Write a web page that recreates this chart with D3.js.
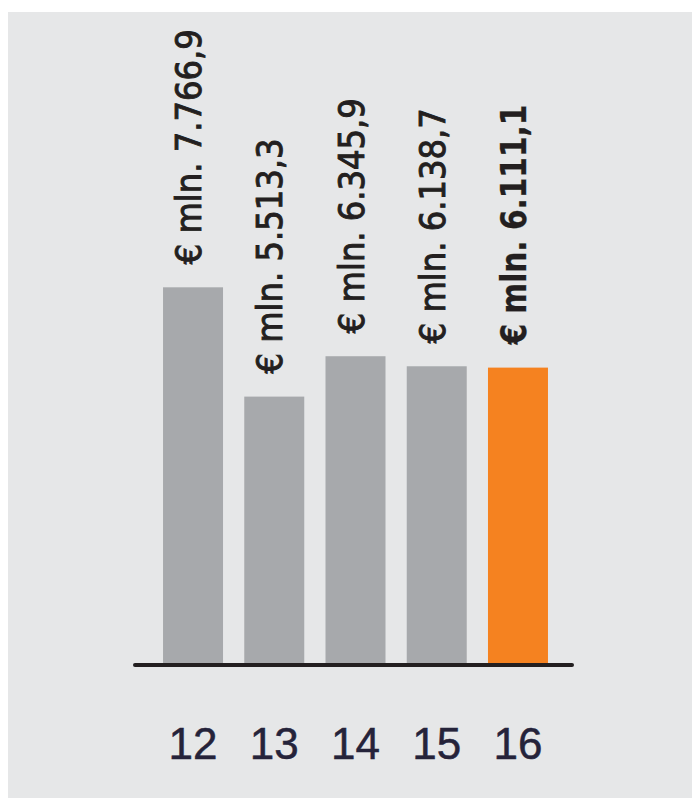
<!DOCTYPE html>
<html>
<head>
<meta charset="utf-8">
<script src="https://cdn.jsdelivr.net/npm/d3@7"></script>
<style>
  html, body { margin: 0; padding: 0; background: #ffffff; }
  svg { display: block; }
</style>
</head>
<body>
<div id="chart"></div>
<script>
// years shown under the bars
var years = ['12', '13', '14', '15', '16'];
// values in € mln, as printed above the bars
var values = [7766.9, 5513.3, 6345.9, 6138.7, 6111.1];
// printed labels
var labels = ['€ mln. 7.766,9', '€ mln. 5.513,3', '€ mln. 6.345,9', '€ mln. 6.138,7', '€ mln. 6.111,1'];

var width = 692, height = 798;
var baseY = 664;
var last = years.length - 1;

var svg = d3.select('#chart')
  .append('svg')
  .attr('width', width)
  .attr('height', height);

// grey panel
svg.append('rect')
  .attr('x', 8)
  .attr('y', 12)
  .attr('width', width - 8)
  .attr('height', height - 12)
  .attr('fill', '#e6e7e8');

// scales
var x = d3.scaleBand()
  .domain(years)
  .range([152.4, 558.6])
  .paddingInner(0.2615)
  .paddingOuter(0.1308);

var y = d3.scaleLinear()
  .domain([0, 8000])
  .range([baseY, baseY - 388]);

// bars
svg.selectAll('.bar')
  .data(values)
  .enter()
  .append('rect')
  .attr('class', 'bar')
  .attr('x', function (d, i) { return x(years[i]); })
  .attr('y', function (d) { return y(d); })
  .attr('width', x.bandwidth())
  .attr('height', function (d) { return baseY - y(d); })
  .attr('fill', function (d, i) { return i === last ? '#f58220' : '#a7a9ac'; });

// value labels, rotated
svg.selectAll('.val')
  .data(values)
  .enter()
  .append('text')
  .attr('class', 'val')
  .attr('transform', function (d, i) {
    var cx = x(years[i]) + x.bandwidth() / 2 + 8;
    return 'translate(' + cx + ',' + (y(d) - 23) + ') rotate(-90)';
  })
  .attr('textLength', function (d, i) { return i === last ? 240 : 235; })
  .attr('lengthAdjust', 'spacingAndGlyphs')
  .style('font-family', '"Liberation Sans Narrow", "DejaVu Sans Condensed", "Liberation Sans", sans-serif')
  .style('font-size', '36px')
  .style('font-weight', function (d, i) { return i === last ? 'bold' : 'normal'; })
  .attr('fill', '#231f20')
  .attr('stroke', '#231f20')
  .attr('stroke-width', function (d, i) { return i === last ? 0.3 : 0.9; })
  .text(function (d, i) { return labels[i]; });

// baseline
svg.append('line')
  .attr('x1', 135)
  .attr('x2', 572)
  .attr('y1', baseY + 1)
  .attr('y2', baseY + 1)
  .attr('stroke', '#231f20')
  .attr('stroke-width', 4)
  .attr('stroke-linecap', 'round');

// year labels
svg.selectAll('.year')
  .data(years)
  .enter()
  .append('text')
  .attr('class', 'year')
  .attr('x', function (d) { return x(d) + x.bandwidth() / 2; })
  .attr('y', 759)
  .attr('text-anchor', 'middle')
  .style('font-family', '"Liberation Sans", Arial, sans-serif')
  .style('font-size', '44px')
  .attr('fill', '#25233a')
  .attr('stroke', '#25233a')
  .attr('stroke-width', 0.5)
  .text(function (d) { return d; });
</script>
</body>
</html>
